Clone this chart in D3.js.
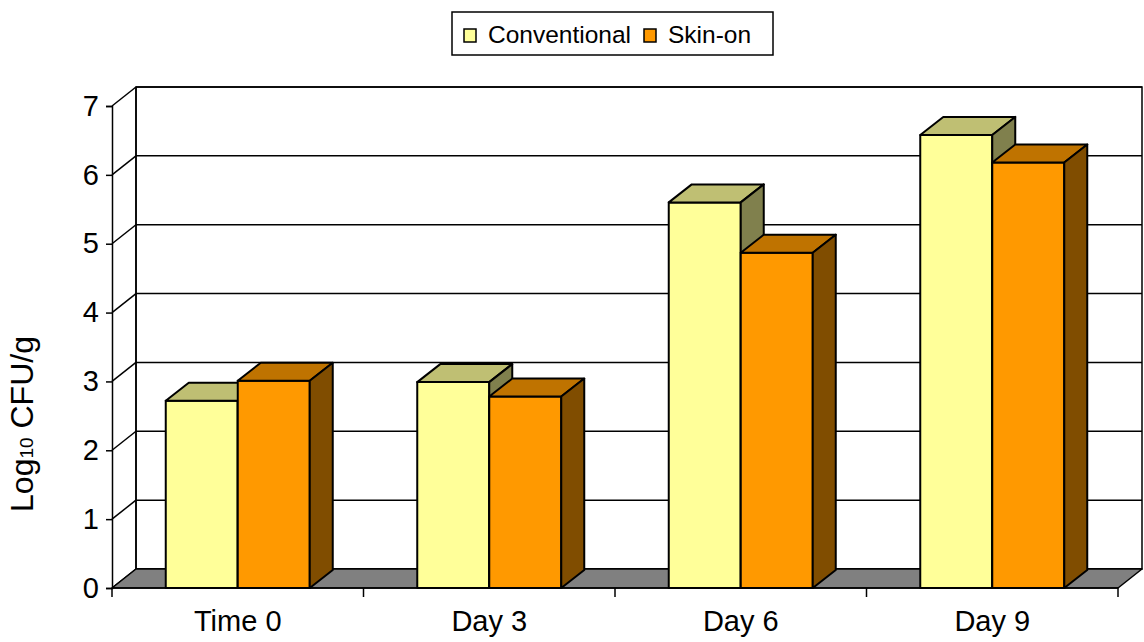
<!DOCTYPE html>
<html>
<head>
<meta charset="utf-8">
<script src="https://cdn.jsdelivr.net/npm/d3@7"></script>
<style>
  html, body { margin: 0; padding: 0; background: #ffffff; }
  svg { display: block; font-family: "Liberation Sans", Arial, sans-serif; }
</style>
</head>
<body>
<svg id="chart" width="1144" height="642"></svg>
<script>
// Sampling days and the two processing types
const categories = ["Time 0", "Day 3", "Day 6", "Day 9"];
const seriesNames = ["Conventional", "Skin-on"];
const conventional = [2.72, 2.99, 5.6, 6.58];
const skinOn = [3.01, 2.78, 4.87, 6.18];
const yTicks = [0, 1, 2, 3, 4, 5, 6, 7];

// Face colours per series: front, top, side
const palette = {
  "Conventional": { front: "#FFFF99", top: "#BFBF73", side: "#80804D" },
  "Skin-on":      { front: "#FF9900", top: "#BF7300", side: "#804D00" }
};

const svg = d3.select("#chart");

// Front plane geometry and depth offset of the back wall
const plotLeft = 112, plotRight = 1118, plotBottom = 588, plotTop = 106;
const depthX = 24, depthY = -19;
const barDepthX = 23, barDepthY = -18;

const x = d3.scaleBand().domain(categories).range([plotLeft, plotRight]).padding(0);
const groupWidth = 144;
const xSeries = d3.scaleBand().domain(seriesNames).range([0, groupWidth]).padding(0);
const y = d3.scaleLinear().domain([0, 7]).range([plotBottom, plotTop]);

const poly = pts => pts.map(p => p.join(",")).join(" ");

// Back wall
const bx0 = plotLeft + depthX, bx1 = plotRight + depthX;
svg.append("polygon")
  .attr("points", poly([[bx0, y(7) + depthY], [bx1, y(7) + depthY], [bx1, y(0) + depthY], [bx0, y(0) + depthY]]))
  .attr("fill", "#ffffff").attr("stroke", "#000").attr("stroke-width", 1.5);

// Gridlines on back wall and the diagonals on the side wall
yTicks.forEach(v => {
  svg.append("line")
    .attr("x1", bx0).attr("x2", bx1)
    .attr("y1", y(v) + depthY).attr("y2", y(v) + depthY)
    .attr("stroke", "#000").attr("stroke-width", 1.5);
  svg.append("line")
    .attr("x1", plotLeft).attr("y1", y(v))
    .attr("x2", bx0).attr("y2", y(v) + depthY)
    .attr("stroke", "#000").attr("stroke-width", 1.5);
});
svg.append("line")
  .attr("x1", bx0).attr("x2", bx0)
  .attr("y1", y(7) + depthY).attr("y2", y(0) + depthY)
  .attr("stroke", "#000").attr("stroke-width", 1.5);

// Floor
svg.append("polygon")
  .attr("points", poly([[plotLeft, plotBottom], [plotRight, plotBottom], [plotRight + depthX, plotBottom + depthY], [plotLeft + depthX, plotBottom + depthY]]))
  .attr("fill", "#808080").attr("stroke", "#000").attr("stroke-width", 1.5).attr("stroke-linejoin", "round");

// Value axis on the front left edge
const yAxis = svg.append("g").attr("transform", `translate(${plotLeft},0)`)
  .call(d3.axisLeft(y).tickValues(yTicks).tickFormat(d3.format("d")).tickSize(6).tickPadding(7));
yAxis.select(".domain").attr("stroke", "#000").attr("stroke-width", 1.5);
yAxis.selectAll(".tick line").attr("stroke", "#000").attr("stroke-width", 1.5);
yAxis.selectAll(".tick text").attr("font-size", 29).attr("fill", "#000")
  .attr("font-family", "Liberation Sans, Arial, sans-serif");

// Category axis along the front floor edge
const xAxis = svg.append("g").attr("transform", `translate(0,${plotBottom})`)
  .call(d3.axisBottom(x).tickSize(0).tickPadding(22));
xAxis.select(".domain").remove();
xAxis.selectAll(".tick text").attr("font-size", 29).attr("fill", "#000")
  .attr("font-family", "Liberation Sans, Arial, sans-serif");
svg.append("line").attr("x1", plotLeft).attr("x2", plotRight).attr("y1", plotBottom).attr("y2", plotBottom)
  .attr("stroke", "#000").attr("stroke-width", 1.5);
const boundaries = categories.map(c => x(c)).concat([plotRight]);
svg.selectAll(".cat-tick").data(boundaries).enter().append("line")
  .attr("class", "cat-tick")
  .attr("x1", d => d).attr("x2", d => d)
  .attr("y1", plotBottom).attr("y2", plotBottom + 9)
  .attr("stroke", "#000").attr("stroke-width", 1.5);

// Bars
const valuesBySeries = { "Conventional": conventional, "Skin-on": skinOn };
const bars = svg.append("g");
categories.forEach((cat, i) => {
  const gx = x(cat) + (x.bandwidth() - groupWidth) / 2;
  seriesNames.forEach(name => {
    const v = valuesBySeries[name][i];
    const x0 = gx + xSeries(name), x1 = x0 + xSeries.bandwidth();
    const y0 = y(0), y1 = y(v);
    const c = palette[name];
    const g = bars.append("g").attr("stroke", "#000").attr("stroke-width", 2).attr("stroke-linejoin", "round");
    g.append("polygon").attr("fill", c.front)
      .attr("points", poly([[x0, y1], [x1, y1], [x1, y0], [x0, y0]]));
    g.append("polygon").attr("fill", c.top)
      .attr("points", poly([[x0, y1], [x1, y1], [x1 + barDepthX, y1 + barDepthY], [x0 + barDepthX, y1 + barDepthY]]));
    g.append("polygon").attr("fill", c.side)
      .attr("points", poly([[x1, y1], [x1 + barDepthX, y1 + barDepthY], [x1 + barDepthX, y0 + barDepthY], [x1, y0]]));
  });
});

// Y axis title
const yTitle = svg.append("text")
  .attr("transform", "translate(33,424) rotate(-90)")
  .attr("text-anchor", "middle")
  .attr("font-size", 32).attr("fill", "#000");
yTitle.append("tspan").text("Log");
yTitle.append("tspan").attr("font-size", 19).text("10");
yTitle.append("tspan").text(" CFU/g");

// Legend
const legend = svg.append("g");
legend.append("rect").attr("x", 452).attr("y", 12).attr("width", 321).attr("height", 43)
  .attr("fill", "#fff").attr("stroke", "#000").attr("stroke-width", 1.5);
const legendX = { "Conventional": 464, "Skin-on": 644 };
seriesNames.forEach(name => {
  legend.append("rect").attr("x", legendX[name]).attr("y", 29).attr("width", 12).attr("height", 13)
    .attr("fill", palette[name].front).attr("stroke", "#000").attr("stroke-width", 1.5);
  legend.append("text").attr("x", legendX[name] + 24).attr("y", 43)
    .attr("font-size", 24.5).attr("fill", "#000").text(name);
});
</script>
</body>
</html>
